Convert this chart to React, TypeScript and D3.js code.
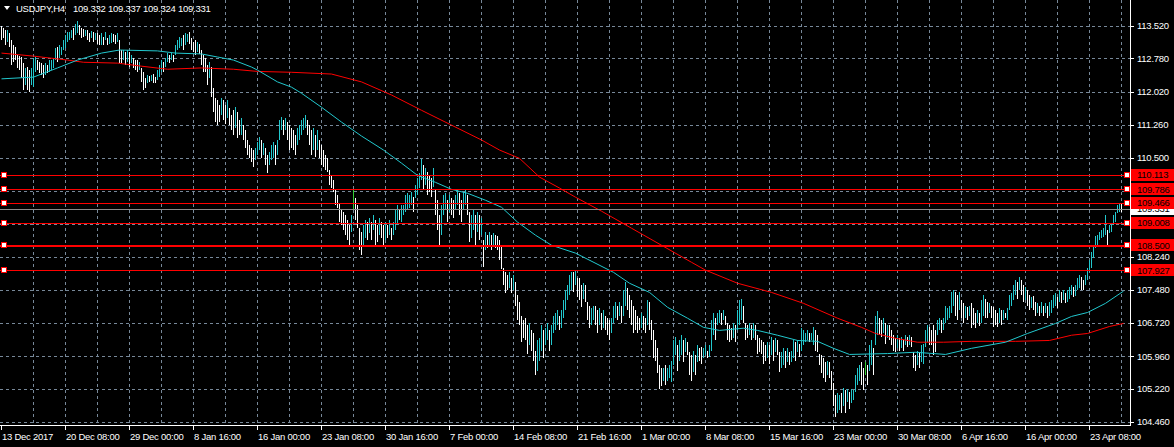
import React, { useEffect } from "react";
import * as d3 from "d3";

// ---------- data ----------
const symbolLabel = "USDJPY,H4";
const ohlcLabel = ["109.332", "109.337", "109.324", "109.331"];

const highs = [
  113.52, 113.47, 113.43, 113.43, 113.36, 113.20, 113.08, 113.04, 112.86, 112.83,
  112.81, 112.67, 112.56, 112.58, 112.51, 112.56, 112.79, 112.81, 112.74, 112.70,
  112.67, 112.63, 112.67, 112.63, 112.74, 112.74, 112.79, 113.02, 113.04, 113.08,
  113.04, 113.20, 113.31, 113.38, 113.38, 113.43, 113.47, 113.57, 113.63, 113.54,
  113.47, 113.45, 113.43, 113.43, 113.36, 113.41, 113.38, 113.36, 113.36, 113.31,
  113.36, 113.27, 113.38, 113.25, 113.31, 113.36, 113.34, 113.31, 113.36, 113.20,
  112.97, 112.97, 112.92, 112.97, 112.92, 112.86, 112.79, 112.74, 112.74, 112.70,
  112.56, 112.47, 112.33, 112.40, 112.37, 112.40, 112.42, 112.35, 112.51, 112.63,
  112.74, 112.70, 112.79, 112.90, 112.86, 112.90, 112.86, 113.08, 113.20, 113.27,
  113.25, 113.31, 113.36, 113.34, 113.38, 113.25, 113.15, 113.20, 113.15, 113.11,
  112.97, 112.86, 112.79, 112.63, 112.70, 112.58, 112.10, 111.87, 111.82, 111.71,
  111.87, 111.82, 111.71, 111.82, 111.64, 111.48, 111.59, 111.66, 111.55, 111.37,
  111.41, 111.25, 111.14, 110.91, 110.79, 110.72, 110.68, 110.72, 110.86, 110.98,
  110.91, 110.84, 110.72, 110.56, 110.63, 110.79, 110.86, 110.79, 110.91, 111.37,
  111.43, 111.37, 111.41, 111.32, 111.25, 111.18, 111.14, 111.02, 111.18, 111.25,
  111.37, 111.41, 111.48, 111.37, 111.25, 111.14, 111.18, 111.02, 111.14, 110.91,
  110.79, 110.68, 110.56, 110.49, 110.22, 110.10, 109.99, 109.76, 109.65, 109.46,
  109.30, 109.26, 109.19, 109.07, 108.96, 109.19, 109.76, 109.58, 109.42, 108.89,
  108.80, 108.96, 109.07, 109.03, 109.12, 109.03, 109.19, 109.07, 108.96, 109.12,
  109.03, 108.96, 109.03, 108.96, 109.07, 108.89, 109.03, 109.30, 109.42, 109.30,
  109.42, 109.42, 109.65, 109.69, 109.65, 109.71, 109.60, 109.88, 110.04, 110.15,
  110.47, 110.33, 110.27, 110.17, 110.10, 110.04, 110.27, 109.76, 109.53, 109.19,
  109.42, 109.65, 109.69, 109.53, 109.65, 109.58, 109.53, 109.65, 109.76, 109.69,
  109.53, 109.71, 109.76, 109.65, 109.26, 109.19, 109.30, 109.19, 109.26, 109.19,
  109.12, 108.61, 108.80, 108.73, 108.80, 108.73, 108.77, 108.73, 108.71, 108.61,
  108.50, 107.97, 107.88, 107.81, 107.88, 107.74, 107.81, 107.65, 107.35, 107.19,
  106.89, 106.78, 106.83, 106.67, 106.73, 106.55, 106.50, 106.09, 106.32, 106.37,
  106.67, 106.55, 106.60, 106.71, 106.55, 106.67, 106.89, 106.96, 107.01, 106.89,
  107.01, 107.24, 107.47, 107.58, 107.81, 107.88, 107.88, 107.93, 107.74, 107.74,
  107.58, 107.63, 107.58, 107.19, 107.12, 107.06, 107.12, 107.12, 107.01, 107.06,
  106.96, 107.01, 106.89, 106.83, 106.78, 106.83, 107.12, 107.19, 107.12, 107.19,
  107.12, 107.47, 107.65, 107.51, 107.35, 107.24, 107.12, 107.01, 106.89, 106.83,
  106.94, 106.89, 106.83, 107.24, 107.19, 106.78, 106.55, 106.32, 106.14, 105.75,
  105.68, 105.70, 105.75, 105.68, 105.75, 105.86, 106.32, 106.39, 106.21, 106.32,
  106.44, 106.32, 106.37, 106.28, 106.05, 105.98, 106.09, 105.98, 106.21, 106.14,
  106.16, 106.14, 106.21, 106.09, 106.21, 106.78, 106.94, 106.83, 106.96, 107.01,
  106.94, 107.01, 106.89, 106.71, 106.67, 106.60, 106.71, 106.67, 107.01, 107.24,
  107.28, 107.12, 106.73, 106.67, 106.73, 106.67, 106.71, 106.67, 106.44, 106.37,
  106.32, 106.28, 106.21, 106.28, 106.21, 106.39, 106.32, 106.37, 106.32, 106.05,
  106.05, 106.14, 106.09, 106.14, 106.05, 106.09, 106.32, 106.28, 106.32, 106.25,
  106.60, 106.55, 106.50, 106.55, 106.48, 106.50, 106.62, 106.55, 106.44, 106.02,
  105.98, 105.91, 105.82, 105.86, 105.82, 105.63, 105.34, 105.06, 105.11, 105.06,
  105.11, 105.24, 105.18, 105.22, 105.13, 105.22, 105.18, 105.52, 105.70, 105.75,
  105.82, 105.68, 105.82, 105.75, 106.21, 106.32, 106.14, 106.89, 106.99, 106.83,
  106.78, 106.83, 106.71, 106.67, 106.67, 106.55, 106.44, 106.37, 106.44, 106.37,
  106.39, 106.32, 106.44, 106.39, 106.44, 106.41, 106.05, 105.98, 106.09, 106.05,
  106.21, 106.25, 106.55, 106.67, 106.62, 106.55, 106.67, 106.55, 106.78, 106.83,
  106.78, 106.83, 107.12, 107.06, 107.12, 107.42, 107.47, 107.42, 107.35, 107.42,
  107.24, 107.17, 107.12, 107.08, 107.12, 107.17, 107.06, 106.94, 107.01, 106.96,
  107.24, 107.35, 107.28, 107.19, 107.17, 107.12, 107.08, 107.01, 106.96, 107.06,
  107.01, 107.01, 106.96, 107.06, 107.35, 107.40, 107.58, 107.70, 107.65, 107.77,
  107.70, 107.58, 107.54, 107.47, 107.35, 107.31, 107.33, 107.19, 107.17, 107.12,
  107.19, 107.12, 107.17, 107.12, 107.19, 107.24, 107.35, 107.40, 107.31, 107.47,
  107.42, 107.47, 107.40, 107.47, 107.54, 107.58, 107.54, 107.58, 107.74, 107.81,
  107.77, 107.70, 107.81, 107.97, 108.16, 108.34, 108.50, 108.71, 108.73, 108.80,
  108.84, 108.89, 109.19, 108.84, 108.96, 109.00, 109.19, 109.26, 109.42, 109.46,
  109.46, 109.34,
];

const lows = [
  113.20, 113.25, 113.08, 113.15, 113.04, 112.63, 112.70, 112.74, 112.56, 112.51,
  112.33, 112.05, 112.17, 112.05, 112.01, 112.17, 112.12, 112.47, 112.51, 112.44,
  112.40, 112.33, 112.40, 112.44, 112.47, 112.51, 112.56, 112.74, 112.70, 112.79,
  112.86, 112.97, 113.02, 113.15, 113.20, 113.25, 113.20, 113.31, 113.36, 113.31,
  113.25, 113.27, 113.29, 113.20, 113.15, 113.25, 113.15, 113.20, 113.11, 113.08,
  113.08, 113.08, 113.20, 113.08, 113.11, 113.13, 113.15, 113.11, 113.15, 112.67,
  112.67, 112.74, 112.63, 112.70, 112.58, 112.67, 112.56, 112.51, 112.47, 112.51,
  112.24, 112.05, 112.10, 112.21, 112.24, 112.26, 112.21, 112.21, 112.28, 112.35,
  112.47, 112.47, 112.58, 112.70, 112.67, 112.74, 112.70, 112.86, 112.97, 113.02,
  113.06, 112.97, 113.08, 113.15, 113.11, 112.97, 112.92, 112.86, 112.92, 112.88,
  112.63, 112.47, 112.47, 112.17, 112.33, 111.89, 111.55, 111.32, 111.25, 111.32,
  111.48, 111.37, 111.27, 111.41, 111.25, 111.14, 111.02, 111.18, 110.95, 111.02,
  111.02, 110.91, 110.72, 110.56, 110.49, 110.40, 110.29, 110.45, 110.56, 110.68,
  110.49, 110.56, 110.33, 110.15, 110.33, 110.45, 110.49, 110.33, 110.56, 110.91,
  111.14, 111.02, 111.14, 110.91, 110.68, 110.72, 110.68, 110.56, 110.79, 110.91,
  111.02, 111.14, 111.18, 111.02, 110.79, 110.56, 110.68, 110.52, 110.68, 110.49,
  110.33, 110.29, 110.22, 110.17, 109.88, 109.81, 109.71, 109.42, 109.35, 109.03,
  108.96, 108.84, 108.73, 108.61, 108.50, 108.80, 109.30, 109.07, 108.89, 108.39,
  108.27, 108.50, 108.66, 108.61, 108.77, 108.61, 108.84, 108.50, 108.57, 108.73,
  108.66, 108.50, 108.61, 108.66, 108.73, 108.61, 108.73, 108.84, 108.96, 109.07,
  109.03, 109.19, 109.26, 109.30, 109.35, 109.42, 109.26, 109.58, 109.65, 109.81,
  109.99, 109.76, 109.88, 109.65, 109.71, 109.60, 109.83, 109.19, 108.84, 108.45,
  108.73, 109.19, 109.30, 109.03, 109.26, 109.19, 109.12, 109.30, 109.42, 109.19,
  109.03, 109.30, 109.42, 109.19, 108.57, 108.66, 108.84, 108.50, 108.80, 108.61,
  108.73, 108.00, 108.39, 108.43, 108.50, 108.39, 108.48, 108.43, 108.39, 108.16,
  107.95, 107.58, 107.40, 107.47, 107.51, 107.40, 107.47, 107.12, 106.78, 106.67,
  106.28, 106.37, 106.32, 106.02, 106.21, 106.09, 105.86, 105.52, 105.63, 105.86,
  106.09, 105.91, 106.21, 106.32, 106.09, 106.21, 106.48, 106.55, 106.67, 106.55,
  106.60, 106.83, 107.01, 107.24, 107.35, 107.47, 107.42, 107.58, 107.31, 107.24,
  107.08, 107.28, 107.19, 106.78, 106.60, 106.67, 106.78, 106.67, 106.48, 106.67,
  106.55, 106.60, 106.55, 106.44, 106.32, 106.50, 106.73, 106.83, 106.78, 106.89,
  106.73, 106.89, 107.12, 107.01, 106.83, 106.67, 106.50, 106.55, 106.50, 106.55,
  106.60, 106.55, 106.50, 106.67, 106.55, 106.32, 105.91, 105.86, 105.57, 105.22,
  105.27, 105.40, 105.29, 105.40, 105.45, 105.36, 105.75, 105.98, 105.63, 105.86,
  105.98, 105.82, 106.05, 105.98, 105.52, 105.40, 105.59, 105.52, 105.82, 105.86,
  105.79, 105.91, 105.98, 105.91, 105.95, 106.09, 106.44, 106.32, 106.67, 106.73,
  106.67, 106.78, 106.67, 106.32, 106.28, 106.32, 106.37, 106.28, 106.55, 106.67,
  106.78, 106.71, 106.32, 106.37, 106.44, 106.32, 106.37, 106.32, 106.02, 106.05,
  106.02, 105.79, 105.86, 105.91, 105.79, 105.98, 105.86, 106.05, 105.98, 105.59,
  105.68, 105.75, 105.68, 105.82, 105.75, 105.82, 105.91, 105.86, 106.05, 105.95,
  106.09, 106.21, 106.28, 106.32, 106.28, 106.32, 106.21, 106.09, 106.05, 105.75,
  105.57, 105.45, 105.36, 105.52, 105.45, 105.18, 104.83, 104.56, 104.65, 104.72,
  104.67, 104.83, 104.65, 104.90, 104.76, 104.88, 104.95, 105.13, 105.29, 105.40,
  105.29, 105.18, 105.52, 105.29, 105.63, 105.75, 105.52, 106.21, 106.44, 106.44,
  106.39, 106.50, 106.25, 106.37, 106.32, 106.21, 106.09, 106.05, 106.14, 106.09,
  106.14, 106.09, 106.21, 106.16, 106.21, 106.18, 105.68, 105.63, 105.75, 105.70,
  105.82, 105.79, 106.16, 106.28, 106.21, 106.21, 105.98, 106.05, 106.44, 106.55,
  106.48, 106.55, 106.71, 106.78, 106.83, 106.96, 107.12, 106.89, 106.78, 107.01,
  106.83, 106.73, 106.83, 106.78, 106.89, 106.60, 106.67, 106.60, 106.73, 106.64,
  106.71, 106.89, 106.83, 106.83, 106.94, 106.83, 106.62, 106.67, 106.62, 106.73,
  106.67, 106.78, 106.83, 106.78, 107.01, 107.12, 107.24, 107.35, 107.28, 107.47,
  107.35, 107.19, 107.24, 107.12, 107.01, 107.06, 107.01, 106.89, 106.94, 106.89,
  106.96, 106.89, 106.96, 106.83, 106.89, 106.96, 107.06, 107.12, 107.06, 107.19,
  107.17, 107.24, 107.17, 107.19, 107.28, 107.35, 107.31, 107.33, 107.47, 107.51,
  107.47, 107.47, 107.58, 107.70, 107.88, 107.97, 108.20, 108.43, 108.50, 108.61,
  108.66, 108.68, 108.73, 108.50, 108.77, 108.80, 108.96, 109.03, 109.23, 109.26,
  109.26, 109.32,
];

// bars where open == close (drawn in the line-graph colour)
const dojiBars = [176, 432];

// moving averages: [bar index, value]
const fastMA = [
  [0, 112.31], [16, 112.35], [28, 112.56], [38, 112.74], [50, 112.90], [59, 112.97],
  [78, 112.95], [87, 112.90], [100, 112.88], [108, 112.81], [116, 112.74], [125, 112.58],
  [128, 112.51], [138, 112.24], [145, 112.12], [150, 111.98], [160, 111.66], [170, 111.32],
  [180, 111.00], [191, 110.68], [200, 110.38], [208, 110.10], [217, 109.94], [225, 109.78],
  [233, 109.69], [242, 109.53], [250, 109.37], [258, 109.03], [267, 108.73], [275, 108.50],
  [287, 108.32], [306, 107.88], [314, 107.63], [324, 107.42], [333, 107.08], [343, 106.83],
  [351, 106.62], [359, 106.55], [371, 106.60], [378, 106.55], [388, 106.44], [398, 106.32],
  [408, 106.30], [416, 106.14], [424, 106.00], [443, 106.02], [457, 106.05], [472, 106.00],
  [485, 106.14], [502, 106.28], [513, 106.48], [527, 106.71], [535, 106.87], [543, 106.96],
  [552, 107.17], [561, 107.45],
];
const slowMA = [
  [0, 112.90], [16, 112.83], [33, 112.74], [41, 112.69], [58, 112.67], [70, 112.60],
  [83, 112.53], [100, 112.56], [116, 112.53], [128, 112.48], [145, 112.46], [165, 112.42],
  [180, 112.24], [195, 111.94], [210, 111.59], [225, 111.25], [240, 110.91], [249, 110.68],
  [259, 110.49], [269, 110.06], [279, 109.81], [287, 109.60], [300, 109.28], [315, 108.89],
  [330, 108.50], [345, 108.11], [352, 107.93], [368, 107.63], [385, 107.42], [401, 107.17],
  [418, 106.83], [430, 106.62], [437, 106.48], [447, 106.37], [458, 106.28], [471, 106.28],
  [485, 106.30], [507, 106.30], [524, 106.32], [535, 106.44], [543, 106.48], [554, 106.64],
  [561, 106.71],
];

const priceTicks = [
  "113.520", "112.780", "112.020", "111.260", "110.500", "109.740", "108.980",
  "108.240", "107.480", "106.720", "105.960", "105.220", "104.460",
];
const timeLabels = [
  "13 Dec 2017", "20 Dec 08:00", "29 Dec 00:00", "8 Jan 16:00", "16 Jan 00:00",
  "23 Jan 08:00", "30 Jan 16:00", "7 Feb 00:00", "14 Feb 08:00", "21 Feb 16:00",
  "1 Mar 00:00", "8 Mar 08:00", "15 Mar 16:00", "23 Mar 00:00", "30 Mar 08:00",
  "6 Apr 16:00", "16 Apr 00:00", "23 Apr 08:00",
];
const levelLines = ["110.113", "109.786", "109.466", "109.008", "108.500", "107.927"];
const bidPrice = "109.331";

// ---------- layout ----------
const W = 1174;
const H = 447;
const plotRight = 1130;
const plotBottom = 425;
const barsPerLabel = 32;
const barsPerGrid = 16;

const FONT = "'Liberation Sans', Arial, sans-serif";
const FS = 9.5;
const LS = -0.25;
const GRID = "#778899";
const CYAN = "#22c8ce";

export default function App() {
  useEffect(() => {
    document.body.style.margin = "0";
    document.body.style.background = "#000";
  }, []);

  const n = highs.length;
  const x = d3.scaleLinear().domain([0, n - 1]).range([1, 1 + 2 * (n - 1)]);
  const y = d3.scaleLinear().domain([104.46, 113.52]).range([421.7, 26]);
  const px = (i: number) => Math.round(x(i)) + 0.5;
  const py = (v: number) => Math.round(y(v)) + 0.5;

  const mids = highs.map((h, i) => (h + lows[i]) / 2);
  const lineGen = d3
    .line<number[]>()
    .x((d) => x(d[0]) + 0.5)
    .y((d) => y(d[1]));

  const gridXs = d3.range(barsPerGrid, n + barsPerGrid, barsPerGrid).filter((i) => x(i) < plotRight);

  return (
    <svg
      width={W}
      height={H}
      style={{ position: "absolute", left: 0, top: 0, display: "block", background: "#000" }}
      fontFamily={FONT}
      letterSpacing={LS}
    >
      <rect x={0} y={0} width={W} height={H} fill="#000" />
      <defs>
        <clipPath id="plot">
          <rect x={0} y={0} width={plotRight} height={plotBottom} />
        </clipPath>
      </defs>

      {/* grid */}
      <g stroke={GRID} strokeWidth={1} strokeDasharray="3,3" shapeRendering="crispEdges">
        {priceTicks.map((t) => (
          <line key={"h" + t} x1={0} x2={plotRight} y1={py(+t)} y2={py(+t)} />
        ))}
        {gridXs.map((i) => (
          <line key={"v" + i} x1={px(i)} x2={px(i)} y1={0} y2={plotBottom} />
        ))}
      </g>

      <g clipPath="url(#plot)">
        {/* bars */}
        <g shapeRendering="crispEdges" strokeWidth={1}>
          {highs.map((h, i) => {
            const up = i > 0 && mids[i] > mids[i - 1];
            const color = dojiBars.includes(i) ? "#32cd32" : up ? CYAN : "#ffffff";
            const y1 = Math.round(y(h));
            const y2 = Math.max(Math.round(y(lows[i])), y1 + 1);
            return <line key={i} x1={px(i)} x2={px(i)} y1={y1} y2={y2} stroke={color} />;
          })}
        </g>

        {/* moving averages */}
        <path d={lineGen(slowMA) || ""} fill="none" stroke="#ff0000" strokeWidth={1} />
        <path d={lineGen(fastMA) || ""} fill="none" stroke={CYAN} strokeWidth={1} />

        {/* bid line */}
        <line x1={0} x2={plotRight} y1={py(+bidPrice)} y2={py(+bidPrice)} stroke="#8a8a8a" shapeRendering="crispEdges" />

        {/* horizontal levels */}
        {levelLines.map((l) => (
          <g key={"l" + l}>
            <line
              x1={0}
              x2={plotRight}
              y1={py(+l)}
              y2={py(+l)}
              stroke="#ff0000"
              strokeWidth={l === "108.500" ? 2 : 1}
              shapeRendering="crispEdges"
            />
            <rect x={1.5} y={Math.round(y(+l)) - 2.5} width={5} height={5} fill="#fff" stroke="#ff0000" shapeRendering="crispEdges" />
            <rect x={1124.5} y={Math.round(y(+l)) - 2.5} width={5} height={5} fill="#fff" stroke="#ff0000" shapeRendering="crispEdges" />
          </g>
        ))}
      </g>

      {/* axes frame */}
      <g stroke="#fff" strokeWidth={1} shapeRendering="crispEdges">
        <line x1={plotRight + 0.5} x2={plotRight + 0.5} y1={0} y2={plotBottom + 1} />
        <line x1={0} x2={plotRight + 1} y1={plotBottom + 0.5} y2={plotBottom + 0.5} />
        {priceTicks.map((t) => (
          <line key={"pt" + t} x1={plotRight} x2={plotRight + 4} y1={py(+t)} y2={py(+t)} />
        ))}
        {timeLabels.map((t, k) => (
          <line key={"tt" + t} x1={px(k * barsPerLabel)} x2={px(k * barsPerLabel)} y1={plotBottom} y2={plotBottom + 5} />
        ))}
      </g>

      {/* price labels */}
      <g fill="#fff" fontSize={FS}>
        {priceTicks.map((t) => (
          <text key={"pl" + t} x={1137} y={y(+t)} dy="0.36em">
            {t}
          </text>
        ))}
      </g>

      {/* time labels */}
      <g fill="#fff" fontSize={FS}>
        {timeLabels.map((t, k) => (
          <text key={"tl" + t} x={x(k * barsPerLabel) + 1} y={440}>
            {t}
          </text>
        ))}
      </g>

      {/* bid label */}
      <rect x={plotRight + 1} y={Math.round(y(+bidPrice)) - 6} width={W - plotRight - 1} height={12} fill="#fff" />
      <text x={1137} y={y(+bidPrice)} dy="0.36em" fontSize={FS} fill="#000">
        {bidPrice}
      </text>

      {/* level labels */}
      {levelLines.map((l) => (
        <g key={"ll" + l}>
          <rect x={plotRight + 1} y={Math.round(y(+l)) - 6} width={W - plotRight - 1} height={12} fill="#ff0000" />
          <text x={1137} y={y(+l)} dy="0.36em" fontSize={FS} fill="#000">
            {l}
          </text>
        </g>
      ))}

      {/* title */}
      <path d="M4,6 L10,6 L7,10 Z" fill="#fff" />
      <text x={16} y={12} fontSize={FS} fill="#fff">
        {symbolLabel}
      </text>
      <text x={73} y={12} fontSize={FS} fill="#fff">
        {ohlcLabel.join(" ")}
      </text>
    </svg>
  );
}
